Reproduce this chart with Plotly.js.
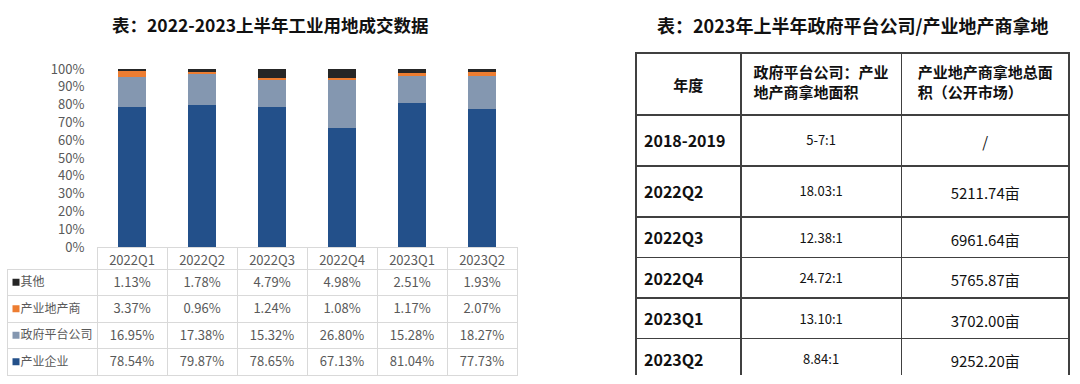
<!DOCTYPE html>
<html><head><meta charset="utf-8">
<script src="https://cdn.plot.ly/plotly-3.0.1.min.js"></script>
<style>html,body{margin:0;padding:0;background:#fff}#chart{width:1080px;height:384px}</style>
</head><body><div id="chart"></div>
<script>
// ---- data: left chart ----
var quarters = ['2022Q1','2022Q2','2022Q3','2022Q4','2023Q1','2023Q2'];
var seriesNames = ['其他','产业地产商','政府平台公司','产业企业'];
var other      = [1.13, 1.78, 4.79, 4.98, 2.51, 1.93];
var developer  = [3.37, 0.96, 1.24, 1.08, 1.17, 2.07];
var govPlatform= [16.95, 17.38, 15.32, 26.80, 15.28, 18.27];
var industry   = [78.54, 79.87, 78.65, 67.13, 81.04, 77.73];
var yTicks = [0,10,20,30,40,50,60,70,80,90,100];

// ---- data: right table ----
var periods = ['2018-2019','2022Q2','2022Q3','2022Q4','2023Q1','2023Q2'];
var ratios  = ['5-7:1','18.03:1','12.38:1','24.72:1','13.10:1','8.84:1'];
var areas   = ['/','5211.74亩','6961.64亩','5765.87亩','3702.00亩','9252.20亩'];
var rightHeaders = ['年度','政府平台公司：产业<br>地产商拿地面积','产业地产商拿地总面<br>积（公开市场）'];

var colors = {'其他':'#262626','产业地产商':'#ED7D31','政府平台公司':'#8497B0','产业企业':'#23508A'};
var FONT = '"Noto Sans CJK SC", "Open Sans", sans-serif';
var W = 1080, H = 384;
function px(x){return x/W;}
function py(y){return 1 - y/H;}
// small invisible first line used to nudge cell text downward (vertical centring)
function spacer(sz){return '<span style="font-size:'+sz+'px">\u00a0</span><br>';}

var seriesData = {'其他':other,'产业地产商':developer,'政府平台公司':govPlatform,'产业企业':industry};
var stackOrder = ['产业企业','政府平台公司','产业地产商','其他'];

var traces = stackOrder.map(function(name){
  return {
    type:'bar', name:name, x:quarters,
    y:seriesData[name].map(function(v){return v/100;}),
    marker:{color:colors[name], line:{width:0}},
    width:0.39, xaxis:'x', yaxis:'y', hoverinfo:'x+y+name'
  };
});

// data table under bars
var fmt = function(v){return v.toFixed(2)+'%';};
var NB = '\u00a0\u00a0';
var legendCol = seriesNames.map(function(n){ return NB + n; });
var tableCols = [legendCol].concat(quarters.map(function(q,i){
  return seriesNames.map(function(n){return fmt(seriesData[n][i]);});
}));
var clear = 'rgba(0,0,0,0)', grid = '#d9d9d9';
traces.push({
  type:'table',
  domain:{x:[px(7),px(517)], y:[py(376),py(247)]},
  columnwidth:[90,70,70,70,70,70,70],
  header:{
    values:[''].concat(quarters),
    height:22,
    align:'center',
    fill:{color:[clear,'white','white','white','white','white','white']},
    line:{color:[clear,grid,grid,grid,grid,grid,grid], width:1},
    font:{family:FONT, size:13, color:'#595959'}
  },
  cells:{
    values:tableCols,
    height:26.5,
    align:['left','center','center','center','center','center','center'],
    fill:{color:[clear,'white','white','white','white','white','white']},
    line:{color:grid, width:1},
    font:{family:FONT, size:[12,13,13,13,13,13,13], color:'#595959'}
  }
});

// legend swatches inside the table's first column
traces.push({
  type:'scatter', mode:'markers', xaxis:'x2', yaxis:'y2',
  x:seriesNames.map(function(){return 0;}), y:seriesNames,
  marker:{symbol:'square', size:7, color:seriesNames.map(function(n){return colors[n];})},
  hoverinfo:'skip'
});

// right table, part A: header + two tall rows
var SPLIT = 2;
var lineStyle = {color:'#404040', width:1.5};
var rFont = {family:FONT, size:[16,13,15], color:'#111111'};
var rAlign = ['left','center','center'];
traces.push({
  type:'table',
  domain:{x:[px(636),px(1070)], y:[py(217),py(53)]},
  columnwidth:[105,161,168],
  header:{
    values:rightHeaders.map(function(h,i){return (i===0?spacer(8.5):'')+'<b>'+h+'</b>';}),
    height:62,
    align:'center',
    fill:{color:'white'},
    line:lineStyle,
    font:{family:FONT, size:15, color:'#111111'}
  },
  cells:{
    values:[periods.slice(0,SPLIT).map(function(p){return spacer(2.8)+'<b>'+p+'</b>';}),
            ratios.slice(0,SPLIT).map(function(r){return spacer(4.5)+r;}),
            areas.slice(0,SPLIT).map(function(a){return spacer(4.2)+a;})],
    height:51,
    align:rAlign,
    fill:{color:'white'},
    line:lineStyle,
    font:rFont
  }
});
// right table, part B: remaining rows (first of them styled exactly like the others)
var colsB = [periods.slice(SPLIT).map(function(p){return '<b>'+p+'</b>';}),
             ratios.slice(SPLIT).map(function(r){return spacer(1)+r;}),
             areas.slice(SPLIT).map(function(a){return spacer(1)+a;})];
traces.push({
  type:'table',
  domain:{x:[px(636),px(1070)], y:[py(375),py(217)]},
  columnwidth:[105,161,168],
  header:{
    values:colsB.map(function(c){return c[0];}),
    height:39.25, align:rAlign, fill:{color:'white'}, line:lineStyle, font:rFont
  },
  cells:{
    values:colsB.map(function(c){return c.slice(1);}),
    height:39.25, align:rAlign, fill:{color:'white'}, line:lineStyle, font:rFont
  }
});

var layout = {
  width:W, height:H,
  margin:{l:0,r:0,t:0,b:0},
  paper_bgcolor:'white', plot_bgcolor:'rgba(0,0,0,0)',
  showlegend:false,
  barmode:'stack',
  xaxis:{domain:[px(97),px(517)], showticklabels:false, showgrid:false, zeroline:false, showline:false, ticks:''},
  yaxis:{domain:[py(247),py(69)], range:[0,1], tickvals:yTicks.map(function(v){return v/100;}),
         ticktext:yTicks.map(function(v){return v+'%';}),
         showgrid:false, zeroline:false, showline:false, ticks:'outside', ticklen:9, tickcolor:clear,
         tickfont:{family:FONT, size:13, color:'#595959'}},
  xaxis2:{domain:[px(7),px(97)], range:[-9,81], visible:false, fixedrange:true},
  yaxis2:{domain:[py(375),py(269)], type:'category', categoryarray:seriesNames,
          range:[3.5,-0.5], visible:false, fixedrange:true},
  annotations:[
    {text:'<b>表：2022-2023上半年工业用地成交数据</b>', xref:'paper', yref:'paper',
     x:px(270.5), y:py(24), showarrow:false, xanchor:'center', yanchor:'middle',
     font:{family:FONT, size:17.5, color:'#111111'}},
    {text:'<b>表：2023年上半年政府平台公司/产业地产商拿地</b>', xref:'paper', yref:'paper',
     x:px(852), y:py(25), showarrow:false, xanchor:'center', yanchor:'middle',
     font:{family:FONT, size:18, color:'#111111'}}
  ]
};

Plotly.newPlot('chart', traces, layout, {displayModeBar:false, staticPlot:true});
</script></body></html>
